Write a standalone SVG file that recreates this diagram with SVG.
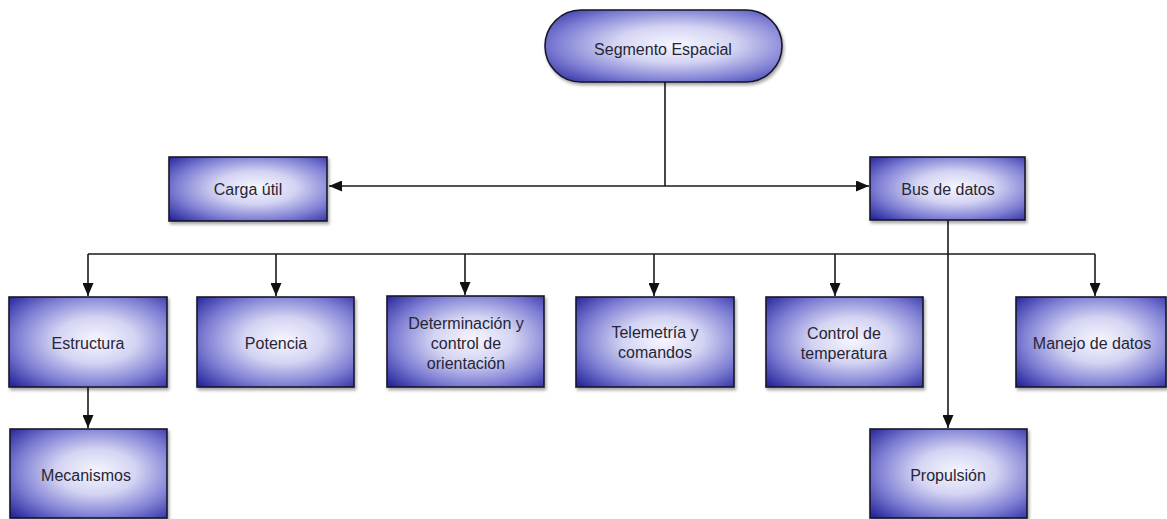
<svg xmlns="http://www.w3.org/2000/svg" width="1167" height="519" viewBox="0 0 1167 519">
  <defs>
    <radialGradient id="boxFill" cx="0.55" cy="0.48" r="0.72">
      <stop offset="0" stop-color="#f6f6ff"/>
      <stop offset="0.35" stop-color="#d4d4f3"/>
      <stop offset="0.7" stop-color="#7e7ed4"/>
      <stop offset="1" stop-color="#2a2a9e"/>
    </radialGradient>
    <filter id="shadow" x="-10%" y="-10%" width="125%" height="130%">
      <feDropShadow dx="1.5" dy="2.5" stdDeviation="1.5" flood-color="#000" flood-opacity="0.35"/>
    </filter>
    <marker id="arrow" viewBox="0 0 13 11" refX="13" refY="5.5" markerWidth="13" markerHeight="11" markerUnits="userSpaceOnUse" orient="auto-start-reverse">
      <path d="M0,0 L13,5.5 L0,11 z" fill="#111"/>
    </marker>
  </defs>
  <style>
    .node rect { fill: url(#boxFill); stroke: #16162a; stroke-width: 1.6; filter: url(#shadow); }
    .node text { font-family: "Liberation Sans", Arial, sans-serif; font-size: 16px; fill: #262636; text-anchor: middle; }
    .conn { fill: none; stroke: #1a1a1a; stroke-width: 1.6; }
  </style>
  <rect width="1167" height="519" fill="#ffffff"/>

  <!-- connectors -->
  <g id="connectors">
    <line class="conn" x1="665" y1="82" x2="665" y2="186"/>
    <line class="conn" x1="329" y1="186" x2="869" y2="186" marker-start="url(#arrow)" marker-end="url(#arrow)"/>
    <line class="conn" x1="948" y1="220" x2="948" y2="428" marker-end="url(#arrow)"/>
    <line class="conn" x1="88" y1="254" x2="1095" y2="254"/>
    <line class="conn" x1="88" y1="254" x2="88" y2="296" marker-end="url(#arrow)"/>
    <line class="conn" x1="276" y1="254" x2="276" y2="296" marker-end="url(#arrow)"/>
    <line class="conn" x1="465" y1="254" x2="465" y2="295" marker-end="url(#arrow)"/>
    <line class="conn" x1="654" y1="254" x2="654" y2="296" marker-end="url(#arrow)"/>
    <line class="conn" x1="835" y1="254" x2="835" y2="296" marker-end="url(#arrow)"/>
    <line class="conn" x1="1095" y1="254" x2="1095" y2="296" marker-end="url(#arrow)"/>
    <line class="conn" x1="88" y1="387" x2="88" y2="428" marker-end="url(#arrow)"/>
  </g>

  <g id="segmento-espacial" class="node">
    <rect x="545" y="10" width="237" height="72" rx="36" ry="36"/>
    <text x="663" y="55">Segmento Espacial</text>
  </g>
  <g id="carga-util" class="node">
    <rect x="169" y="157" width="158" height="64"/>
    <text x="248" y="195">Carga útil</text>
  </g>
  <g id="bus-de-datos" class="node">
    <rect x="870" y="157" width="155" height="63"/>
    <text x="948" y="195">Bus de datos</text>
  </g>
  <g id="estructura" class="node">
    <rect x="9" y="297" width="158" height="90"/>
    <text x="88" y="349">Estructura</text>
  </g>
  <g id="potencia" class="node">
    <rect x="197" y="297" width="157" height="90"/>
    <text x="276" y="349">Potencia</text>
  </g>
  <g id="determinacion" class="node">
    <rect x="387" y="296" width="157" height="91"/>
    <text x="466" y="329">Determinación y</text>
    <text x="466" y="349">control de</text>
    <text x="466" y="369">orientación</text>
  </g>
  <g id="telemetria" class="node">
    <rect x="576" y="297" width="158" height="90"/>
    <text x="655" y="338">Telemetría y</text>
    <text x="655" y="358">comandos</text>
  </g>
  <g id="control-temperatura" class="node">
    <rect x="766" y="297" width="157" height="90"/>
    <text x="844" y="339">Control de</text>
    <text x="844" y="359">temperatura</text>
  </g>
  <g id="manejo-datos" class="node">
    <rect x="1016" y="297" width="150" height="90"/>
    <text x="1092" y="349">Manejo de datos</text>
  </g>
  <g id="mecanismos" class="node">
    <rect x="10" y="429" width="157" height="89"/>
    <text x="86" y="481">Mecanismos</text>
  </g>
  <g id="propulsion" class="node">
    <rect x="870" y="429" width="157" height="89"/>
    <text x="948" y="481">Propulsión</text>
  </g>
</svg>
